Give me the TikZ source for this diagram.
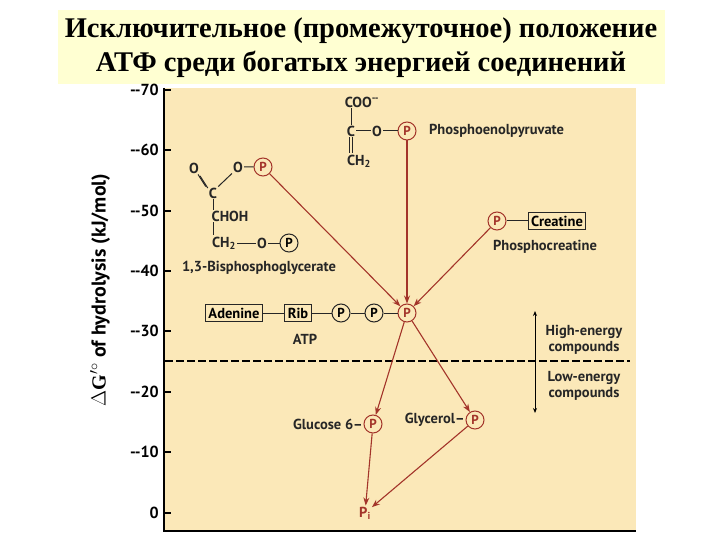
\documentclass[tikz,border=0pt]{standalone}
\usepackage{fontspec}
\setmainfont{Liberation Serif}
\newfontfamily\lab{PT Sans}
\usetikzlibrary{arrows.meta}
\definecolor{panel}{HTML}{FBE8B8}
\definecolor{titlebg}{HTML}{FFFFD2}
\definecolor{rr}{HTML}{A3342A}
\tikzset{
 t/.style={font=\lab\bfseries\fontsize{14.5}{16}\selectfont, text=black!85, inner sep=1pt},
 pc/.style={circle, draw=black!85, line width=1pt, inner sep=0pt, minimum size=18pt, font=\lab\bfseries\fontsize{13}{13}\selectfont},
 pr/.style={pc, draw=rr, text=rr},
 bx/.style={draw=black!85, line width=1pt, inner sep=3pt, minimum height=17pt, font=\lab\bfseries\fontsize{14.5}{16}\selectfont},
 bond/.style={line width=1pt, black!85},
 rarr/.style={rr, line width=1.1pt, -{Stealth[length=8pt,width=6pt]}},
 tick/.style={font=\lab\bfseries\fontsize{16}{16}\selectfont, anchor=east, inner sep=1pt}
}
\begin{document}
\begin{tikzpicture}[x=1pt,y=-1pt]
\useasboundingbox (0,0) rectangle (720,540);
\fill[white] (0,0) rectangle (720,540);
\fill[titlebg] (58,10) rectangle (665,84);
\node (t1) at (361,31) {\bfseries\fontsize{28.5}{30}\selectfont Исключительное (промежуточное) положение};
\node (t2) at (361,64) {\bfseries\fontsize{28.5}{30}\selectfont АТФ среди богатых энергией соединений};
\fill[panel] (164,88) rectangle (636,531);
\draw[line width=1.5pt] (164,88) -- (164,531) -- (636,531);
\foreach \v/\y in {-70/90,-60/150,-50/211,-40/271,-30/331,-20/392,-10/452,0/513}{
 \draw[line width=1.5pt] (164,\y) -- (171,\y);
 \node[tick] at (160,\y) {\ifnum\v<0 --\number\numexpr-\v\relax\else 0\fi};
}
\node[rotate=90, font=\lab\bfseries\fontsize{20}{20}\selectfont] (yl) at (100,290) {$\Delta \mathbf{G}'^{\circ}$ of hydrolysis (kJ/mol)};
\draw[line width=1.3pt, dash pattern=on 8pt off 3pt] (165,361) -- (630,361);
% PEP
\node[t] (coo) at (362,102) {COO\textsuperscript{--}};
\node[t] (c1) at (351,131) {C};
\node[t] (o1) at (377,131) {O};
\node[pr] (p1) at (407,131) {P};
\node[t] (ch2a) at (359,161) {CH\textsubscript{2}};
\node[t, anchor=west] (pepl) at (428,131) {Phosphoenolpyruvate};
\draw[bond] (c1.north) -- (c1.north |- coo.south);
\draw[bond] (c1) -- (o1) (o1) -- (p1);
\draw[bond] ([xshift=-1.5pt]c1.south) -- ([xshift=-1.5pt]c1.south |- ch2a.north);
\draw[bond] ([xshift=1.5pt]c1.south) -- ([xshift=1.5pt]c1.south |- ch2a.north);
% BPG
\node[t] (o2) at (194,168) {O};
\node[t] (o3) at (238,167) {O};
\node[pr] (p2) at (263,167) {P};
\node[t] (c2) at (213,193) {C};
\node[t] (choh) at (230,216) {CHOH};
\node[t] (ch2b) at (224,243) {CH\textsubscript{2}};
\node[t] (o4) at (262,243) {O};
\node[pc] (p3) at (289,243) {P};
\node[t] (bpgl) at (259,268) {1,3-Bisphosphoglycerate};
\draw[bond] ([yshift=-1.5pt]o2.south east) -- ([yshift=-1.5pt]c2.north west);
\draw[bond] ([xshift=-2pt]o2.south east) -- ([xshift=-2pt]c2.north west);
\draw[bond] (c2.north east) -- (o3.south west) (o3) -- (p2);
\draw[bond] (c2.south) -- (c2.south |- choh.north);
\draw[bond] (c2.south |- choh.south) -- (c2.south |- ch2b.north);
\draw[bond] (ch2b) -- (o4) (o4) -- (p3);
% creatine
\node[pr] (p4) at (497,221) {P};
\node[bx] (cr) at (557,221) {Creatine};
\draw[bond] (p4) -- (cr);
\node[t] (pcl) at (545,247) {Phosphocreatine};
% ATP
\node[bx] (ade) at (234,313) {Adenine};
\node[bx] (rib) at (298,313) {Rib};
\node[pc] (pa) at (341,313) {P};
\node[pc] (pb) at (374,313) {P};
\node[pr] (pg) at (407,313) {P};
\draw[bond] (ade) -- (rib) (rib) -- (pa) (pa) -- (pb) (pb) -- (pg);
\node[t] (atpl) at (305,339) {ATP};
% low
\node[pr] (g6) at (373,424) {P};
\node[t, anchor=east] (g6l) at (364,424) {Glucose 6–};
\node[pr] (gl) at (475,420) {P};
\node[t, anchor=east] (gll) at (466,420) {Glycerol–};
\node[t, text=rr] (pi) at (365,513) {P\textsubscript{i}};
% arrows
\draw[rarr] (p2) -- (pg);
\draw[rarr] (p1) -- (pg);
\draw[rarr] (p4) -- (pg);
\draw[rarr] (pg) -- (g6);
\draw[rarr] (pg) -- (gl);
\draw[rarr] (g6) -- (pi);
\draw[rarr] (gl) -- (pi);
% energy
\coordinate (ea) at (535,311);
\coordinate (eb) at (535,413);
\draw[line width=1pt, {Stealth[length=5pt,width=4pt]}-{Stealth[length=5pt,width=4pt]}] (ea) -- (eb);
\node[t, align=center] (he) at (584,340) {High-energy\\compounds};
\node[t, align=center] (le) at (584,386) {Low-energy\\compounds};
\end{tikzpicture}
\end{document}
